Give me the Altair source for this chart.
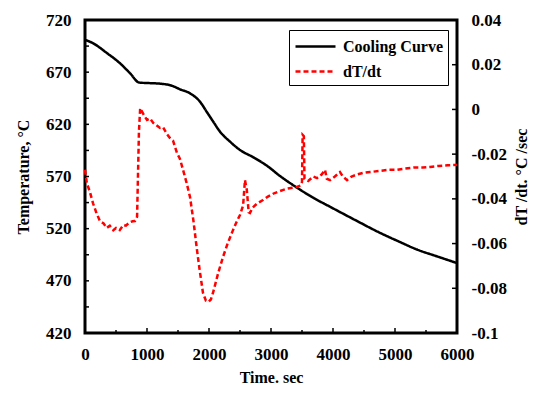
import altair as alt
import pandas as pd

# ---------------- data ----------------
series_names = ["Cooling Curve", "dT/dt"]
series_colors = ["#000000", "#ff0000"]

time_cool = [0, 134, 349, 565, 726, 876, 1000, 1210, 1400, 1532, 1694, 1855,
             1962, 2069, 2177, 2339, 2500, 2715, 2930, 3145, 3414, 3700, 3952,
             4350, 4758, 5050, 5355, 5700, 6000]
temp_cool = [701, 697.6, 688.5, 678.5, 669, 660, 659.6, 659, 657, 653.6, 649.7,
             641.7, 632.1, 622.5, 613, 603.4, 595.4, 588.4, 580.5, 570.5, 559.5,
             549, 541, 528.5, 516, 508, 500, 493, 487]

time_rate = [0, 30, 80, 130, 180, 242, 300, 350, 400, 457, 500, 560, 618, 660,
             720, 770, 806, 840, 870, 890, 920, 960, 1000, 1050, 1100, 1150,
             1210, 1260, 1320, 1371, 1420, 1484, 1530, 1581, 1640, 1694, 1750,
             1800, 1850, 1903, 1950, 1990, 2030, 2065, 2150, 2226, 2300, 2387,
             2450, 2500, 2550, 2580, 2610, 2640, 2661, 2700, 2780, 2871, 2950,
             3050, 3145, 3250, 3350, 3419, 3480, 3500, 3510, 3530, 3540, 3600,
             3680, 3742, 3820, 3871, 3900, 3952, 4030, 4113, 4160, 4226, 4300,
             4400, 4484, 4600, 4750, 4900, 5032, 5150, 5300, 5450, 5565, 5700,
             5850, 6000]
rate_vals = [-0.027, -0.033, -0.037, -0.042, -0.046, -0.050, -0.051, -0.053,
             -0.052, -0.054, -0.053, -0.054, -0.0517, -0.052, -0.0505, -0.050,
             -0.0499, -0.048, -0.010, 0.0005, -0.001, -0.003, -0.0047, -0.004,
             -0.006, -0.007, -0.0083, -0.008, -0.011, -0.0128, -0.014, -0.0195,
             -0.022, -0.027, -0.033, -0.0392, -0.050, -0.0615, -0.072, -0.0821,
             -0.0855, -0.0861, -0.085, -0.082, -0.073, -0.066, -0.060, -0.054,
             -0.050, -0.0472, -0.043, -0.0316, -0.036, -0.046, -0.0463, -0.044,
             -0.042, -0.0405, -0.039, -0.0375, -0.0365, -0.0355, -0.035,
             -0.0347, -0.034, -0.0325, -0.0114, -0.012, -0.031, -0.032, -0.030,
             -0.0307, -0.029, -0.027, -0.031, -0.0316, -0.030, -0.028, -0.030,
             -0.0316, -0.030, -0.029, -0.0284, -0.028, -0.0275, -0.027, -0.027,
             -0.0265, -0.026, -0.026, -0.0257, -0.0253, -0.025, -0.0248]

x_labels = [0, 1000, 2000, 3000, 4000, 5000, 6000]
x_minor = [500, 1500, 2500, 3500, 4500, 5500]
x_major = [1000, 2000, 3000, 4000, 5000]
left_labels = [420, 470, 520, 570, 620, 670, 720]
left_ticks = [445, 470, 495, 520, 545, 570, 595, 620, 645, 670, 695]
right_labels = [0.04, 0.02, 0, -0.02, -0.04, -0.06, -0.08, -0.1]
right_ticks = [0.02, 0, -0.02, -0.04, -0.06, -0.08]

# ---------------- chart ----------------
W, H = 372, 313
FONT = "Liberation Serif"

cool_df = pd.DataFrame({"t": time_cool, "v": temp_cool, "series": series_names[0]})
rate_df = pd.DataFrame({"t": time_rate, "v": rate_vals, "series": series_names[1]})

xscale = alt.Scale(domain=[0, 6000], nice=False)
lscale = alt.Scale(domain=[420, 720], nice=False, zero=False)
rscale = alt.Scale(domain=[-0.1, 0.04], nice=False, zero=False)

x_axis = alt.Axis(title="Time. sec", values=x_labels, labelFlush=False, format="d",
                  labelPadding=13, titlePadding=7)
l_axis = alt.Axis(title="Temperature, °C", values=left_labels, orient="left",
                  labelPadding=14, titlePadding=14)
r_axis = alt.Axis(title="dT /dt. °C /sec", values=right_labels, orient="right",
                  labelExpr="toString(datum.value)", labelPadding=14,
                  titlePadding=23, titleAngle=270)

color = alt.Color("series:N", scale=alt.Scale(domain=series_names, range=series_colors),
                  title=None)
dash = alt.StrokeDash("series:N",
                      scale=alt.Scale(domain=series_names, range=[[1, 0], [5, 3]]),
                      title=None)

cool_line = alt.Chart(cool_df).mark_line(strokeWidth=2.5, interpolate="monotone").encode(
    x=alt.X("t:Q", scale=xscale, axis=x_axis),
    y=alt.Y("v:Q", scale=lscale, axis=l_axis),
    color=color, strokeDash=dash,
)

lt = alt.Chart(pd.DataFrame({"v": left_ticks})).mark_rule(color="black", strokeWidth=1.5).encode(
    y=alt.Y("v:Q", scale=lscale, axis=l_axis), x=alt.value(0), x2=alt.value(4))
xt_major = alt.Chart(pd.DataFrame({"t": x_major})).mark_rule(color="black", strokeWidth=1.5).encode(
    x=alt.X("t:Q", scale=xscale, axis=x_axis), y=alt.value(H), y2=alt.value(H - 5))
xt_minor = alt.Chart(pd.DataFrame({"t": x_minor})).mark_rule(color="black", strokeWidth=1.5).encode(
    x=alt.X("t:Q", scale=xscale, axis=x_axis), y=alt.value(H), y2=alt.value(H - 3))

left_group = alt.layer(cool_line, lt, xt_major, xt_minor)

rate_line = alt.Chart(rate_df).mark_line(strokeWidth=2.5).encode(
    x=alt.X("t:Q", scale=xscale, axis=x_axis),
    y=alt.Y("v:Q", scale=rscale, axis=r_axis),
    color=color, strokeDash=dash,
)
rt = alt.Chart(pd.DataFrame({"v": right_ticks})).mark_rule(color="black", strokeWidth=1.5).encode(
    y=alt.Y("v:Q", scale=rscale, axis=r_axis), x=alt.value(W), x2=alt.value(W - 5))

right_group = alt.layer(rate_line, rt)

chart = alt.layer(left_group, right_group).resolve_scale(y="independent").properties(
    width=W, height=H,
    autosize=alt.AutoSizeParams(type="none"),
    padding={"left": 77, "top": 12, "right": 72, "bottom": 52},
).configure_view(
    stroke="black", strokeWidth=3
).configure_axis(
    grid=False, domain=False, ticks=False,
    labelFont=FONT, labelFontSize=17, labelFontWeight="bold", labelColor="black",
    titleFont=FONT, titleFontSize=16, titleFontWeight="bold", titleColor="black",
).configure_legend(
    orient="none", legendX=204, legendY=10,
    strokeColor="black", fillColor="white", padding=5, rowPadding=5,
    labelFont=FONT, labelFontSize=16, labelFontWeight="bold", labelColor="black",
    symbolType="M-1,0H3", symbolSize=400, symbolStrokeWidth=2.5, labelOffset=26,
)

chart.save("out.html", embed_options={"renderer": "svg", "actions": False})
